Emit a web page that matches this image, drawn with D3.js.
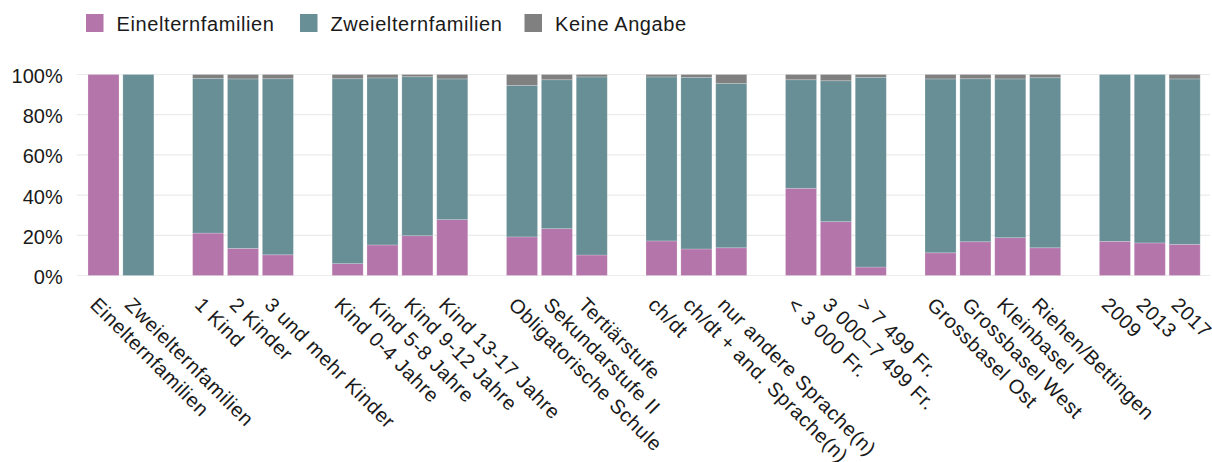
<!DOCTYPE html>
<html>
<head>
<meta charset="utf-8">
<script src="https://cdn.jsdelivr.net/npm/d3@7"></script>
<style>
  body { margin: 0; background: #fff; }
  svg { display: block; font-family: "Liberation Sans", Arial, sans-serif; }
</style>
</head>
<body>
<svg id="chart" width="1212" height="462"></svg>
<script>
"use strict";

// categories, grouped; an empty slot is left between groups
const groups = [
  ["Einelternfamilien", "Zweielternfamilien"],
  ["1 Kind", "2 Kinder", "3 und mehr Kinder"],
  ["Kind 0-4 Jahre", "Kind 5-8 Jahre", "Kind 9-12 Jahre", "Kind 13-17 Jahre"],
  ["Obligatorische Schule", "Sekundarstufe II", "Tertiärstufe"],
  ["ch/dt", "ch/dt + and. Sprache(n)", "nur andere Sprache(n)"],
  ["< 3 000 Fr.", "3 000–7 499 Fr.", "> 7 499 Fr."],
  ["Grossbasel Ost", "Grossbasel West", "Kleinbasel", "Riehen/Bettingen"],
  ["2009", "2013", "2017"]
];

// shares in %, same order as the flattened categories
const einelternfamilien = [100, 0, 21.1, 13.5, 10.3, 5.9, 15.2, 19.8, 27.8, 19.2, 23.3, 10.2,
  17.2, 13.2, 13.8, 43.4, 26.8, 4.2, 11.3, 16.8, 18.8, 13.8, 17.0, 16.2, 15.5];
const zweielternfamilien = [0, 100, 76.9, 84.3, 87.6, 92.0, 83.1, 79.1, 70.0, 75.4, 74.1, 88.6,
  81.6, 85.4, 81.8, 54.0, 70.1, 94.4, 86.5, 81.1, 79.0, 84.6, 83.0, 83.8, 82.3];
const keineAngabe = [0, 0, 2.0, 2.2, 2.1, 2.1, 1.7, 1.1, 2.2, 5.4, 2.6, 1.2,
  1.2, 1.4, 4.4, 2.6, 3.1, 1.4, 2.2, 2.1, 2.2, 1.6, 0, 0, 2.2];

const seriesNames = ["Einelternfamilien", "Zweielternfamilien", "Keine Angabe"];
const seriesColors = ["#b475aa", "#688f96", "#808080"];
const yTicks = [0, 20, 40, 60, 80, 100];

const categories = groups.flat();
const rows = categories.map((c, i) => ({
  cat: c,
  Einelternfamilien: einelternfamilien[i],
  Zweielternfamilien: zweielternfamilien[i],
  "Keine Angabe": keineAngabe[i]
}));

// band domain with spacer slots between groups
const slots = [];
groups.forEach((g, gi) => {
  if (gi > 0) slots.push("__gap" + gi);
  g.forEach(c => slots.push(c));
});

const svg = d3.select("#chart");
const y0 = 275.5, y1 = 74.5;
const gridLeft = 76.7, gridRight = 1210;

const x = d3.scaleBand()
  .domain(slots)
  .range([86.06, 1202.1])
  .paddingInner(0.11)
  .paddingOuter(0.055);

const y = d3.scaleLinear().domain([0, 100]).range([y0, y1]);

// grid
svg.append("g")
  .selectAll("line")
  .data(yTicks)
  .join("line")
  .attr("x1", gridLeft)
  .attr("x2", gridRight)
  .attr("y1", d => y(d))
  .attr("y2", d => y(d))
  .attr("stroke", "#ebebeb")
  .attr("stroke-width", 1.2);

// y labels
svg.append("g")
  .selectAll("text")
  .data(yTicks)
  .join("text")
  .attr("x", 62.7)
  .attr("y", d => y(d))
  .attr("dy", "0.42em")
  .attr("text-anchor", "end")
  .attr("font-size", 20)
  .attr("fill", "#1a1a1a")
  .text(d => d + "%");

// stacked bars
const stack = d3.stack().keys(seriesNames)(rows);
const color = d3.scaleOrdinal().domain(seriesNames).range(seriesColors);

svg.append("g")
  .selectAll("g")
  .data(stack)
  .join("g")
  .attr("fill", d => color(d.key))
  .selectAll("rect")
  .data(d => d.filter(s => s[1] - s[0] > 0))
  .join("rect")
  .attr("x", d => x(d.data.cat))
  .attr("width", x.bandwidth())
  .attr("y", d => y(d[1]))
  .attr("height", d => y(d[0]) - y(d[1]))
  .attr("stroke", "#ffffff")
  .attr("stroke-opacity", 0.25)
  .attr("stroke-width", 0.8);

// x labels, rotated
svg.append("g")
  .selectAll("text")
  .data(categories)
  .join("text")
  .attr("transform", d => "translate(" + (x(d) + x.bandwidth() / 2 - 14.5) + ",306) rotate(45)")
  .attr("font-size", 20)
  .attr("letter-spacing", 0.6)
  .attr("fill", "#1a1a1a")
  .text(d => d);

// legend
const legendX = [86, 300, 524.5];
const legend = svg.append("g")
  .selectAll("g")
  .data(seriesNames)
  .join("g")
  .attr("transform", (d, i) => "translate(" + legendX[i] + ",0)");

legend.append("rect")
  .attr("x", 0)
  .attr("y", 14)
  .attr("width", 17.5)
  .attr("height", 18)
  .attr("fill", d => color(d));

legend.append("text")
  .attr("x", 30.5)
  .attr("y", 31)
  .attr("font-size", 20)
  .attr("letter-spacing", 0.6)
  .attr("fill", "#1a1a1a")
  .text(d => d);
</script>
</body>
</html>
